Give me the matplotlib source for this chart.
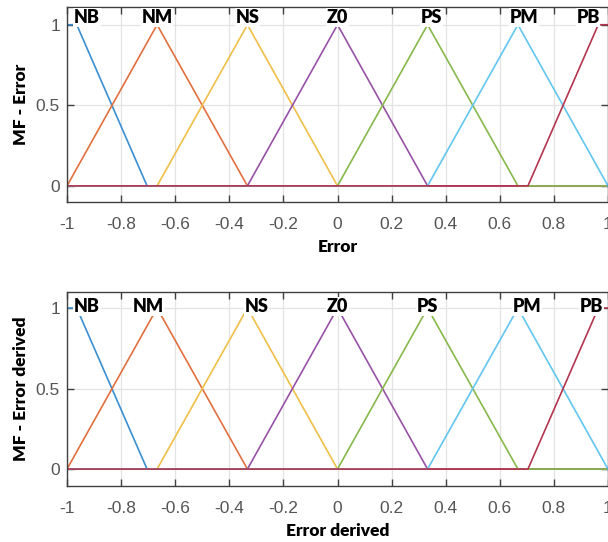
import numpy as np
import matplotlib.pyplot as plt

# membership functions (vertices), universe -1 .. 1
mf_names = ['NB', 'NM', 'NS', 'Z0', 'PS', 'PM', 'PB']
mf_x = [
    [-1, -0.964, -0.704, 1],
    [-1, -0.667, -0.333, 1],
    [-1, -0.667, -0.333, 0, 1],
    [-1, -0.333, 0, 0.333, 1],
    [-1, 0, 0.333, 0.667, 1],
    [-1, 0.333, 0.667, 1],
    [-1, 0.704, 0.964, 1],
]
mf_y = [
    [1, 1, 0, 0],
    [0, 1, 0, 0],
    [0, 0, 1, 0, 0],
    [0, 0, 1, 0, 0],
    [0, 0, 1, 0, 0],
    [0, 0, 1, 0],
    [0, 0, 1, 1],
]
colors = ['#3a8fd0', '#e2703f', '#f0bf48', '#9752a6', '#86b84a', '#62c6f0', '#b43550']

# label positions (x) for each panel
lab_x_err = [-0.926, -0.667, -0.333, 0.0, 0.348, 0.689, 0.926]
lab_x_der = [-0.926, -0.70, -0.30, 0.0, 0.333, 0.70, 0.94]

xticks = [-1, -0.8, -0.6, -0.4, -0.2, 0, 0.2, 0.4, 0.6, 0.8, 1]
xticklabels = ['-1', '-0.8', '-0.6', '-0.4', '-0.2', '0', '0.2', '0.4', '0.6', '0.8', '1']
yticks = [0, 0.5, 1]
yticklabels = ['0', '0.5', '1']

W, H = 608, 542
fig = plt.figure(figsize=(W / 100, H / 100), dpi=100)

ax1 = fig.add_axes([67 / W, 1 - 202 / H, 541 / W, 195 / H])
ax2 = fig.add_axes([67 / W, 1 - 486 / H, 541 / W, 194 / H])

panels = [
    (ax1, lab_x_err, 1.012, 'MF - Error', 'Error', (-0.1, 1.11)),
    (ax2, lab_x_der, 0.975, 'MF - Error derived', 'Error derived', (-0.105, 1.1)),
]

for ax, lab_x, lab_y, ylab, xlab, ylim in panels:
    for i in range(len(mf_names)):
        ax.plot(mf_x[i], mf_y[i], color=colors[i], lw=1.2, zorder=2)
        ax.text(lab_x[i], lab_y, mf_names[i], ha='center', va='baseline',
                fontsize=13, fontweight='heavy', family='Lato', color='black',
                bbox=dict(facecolor='white', edgecolor='none', pad=0.5), zorder=5)
    ax.set_xlim(-1, 1)
    ax.set_ylim(*ylim)
    ax.set_xticks(xticks)
    ax.set_xticklabels(xticklabels)
    ax.set_yticks(yticks)
    ax.set_yticklabels(yticklabels)
    ax.grid(True, color='#e3e3e3', lw=0.9, zorder=0)
    ax.set_axisbelow(True)
    ax.tick_params(direction='in', length=5, width=1, color='#404040',
                   top=True, right=True, labelsize=12.5, labelcolor='#555555', pad=11)
    ax.tick_params(axis='y', pad=5)
    for lbl in ax.get_xticklabels() + ax.get_yticklabels():
        lbl.set_family('Liberation Sans')
    for s in ax.spines.values():
        s.set_color('#404040')
        s.set_linewidth(1)
    ax.set_ylabel(ylab, fontsize=12.5, fontweight='heavy', family='Lato', labelpad=5)
    ax.set_xlabel(xlab, fontsize=12.5, fontweight='heavy', family='Lato', labelpad=5)

fig.savefig('out.png', dpi=100)
